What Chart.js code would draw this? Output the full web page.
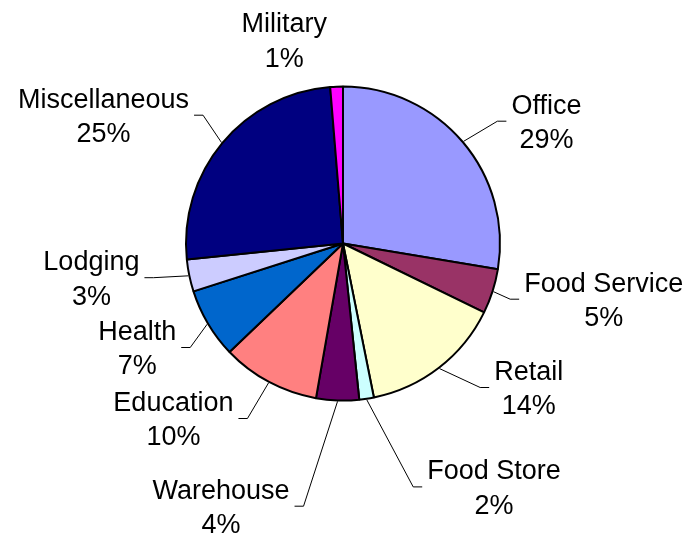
<!DOCTYPE html>
<html>
<head>
<meta charset="utf-8">
<script src="https://cdn.jsdelivr.net/npm/chart.js@4.4.1/dist/chart.umd.min.js"></script>
<style>
  html, body { margin: 0; padding: 0; background: #fff; }
  #wrap { width: 692px; height: 535px; }
</style>
</head>
<body>
<div id="wrap"><canvas id="buildingChart" width="692" height="535"></canvas></div>
<script>
const categories = ['Office', 'Food Service', 'Retail', 'Food Store', 'Warehouse', 'Education', 'Health', 'Lodging', 'Miscellaneous', 'Military'];
const shares = [27.6, 4.6, 14.6, 1.5, 4.4, 10.1, 7.2, 3.3, 25.3, 1.3];
const percentLabels = ['29%', '5%', '14%', '2%', '4%', '10%', '7%', '3%', '25%', '1%'];
const sliceColors = ['#9999FF', '#993366', '#FFFFCC', '#CCFFFF', '#660066', '#FF8080', '#0066CC', '#CCCCFF', '#000080', '#FF00FF'];

// where each label block sits, measured from the pie centre
const labelOffsetX = [203.4, 260.7, 185.7, 151, -122, -169.6, -205.8, -251.6, -239.5, -58.8];
const labelOffsetY = [-122.3, 55.7, 144, 243.4, 262.7, 175, 104, 34.2, -128.3, -203.8];
const hasLeader = [true, true, true, true, true, true, true, true, true, false];

const FONT_SIZE = 27;
const LINE_GAP = 34.5;

const labelPlugin = {
  id: 'pieLabels',
  afterDatasetsDraw(chart) {
    const ctx = chart.ctx;
    const arcs = chart.getDatasetMeta(0).data;
    ctx.save();
    ctx.font = `${FONT_SIZE}px "Liberation Sans", Arial, sans-serif`;
    ctx.fillStyle = '#000';
    ctx.strokeStyle = '#000';
    ctx.lineWidth = 1;
    ctx.textAlign = 'center';
    ctx.textBaseline = 'alphabetic';
    const capHalf = FONT_SIZE * 0.716 / 2;

    arcs.forEach((arc, i) => {
      const cx = arc.x + labelOffsetX[i];
      const cy = arc.y + labelOffsetY[i];
      const lines = [categories[i], percentLabels[i]];
      ctx.fillText(lines[0], cx, cy - LINE_GAP / 2 + capHalf);
      ctx.fillText(lines[1], cx, cy + LINE_GAP / 2 + capHalf);

      if (!hasLeader[i]) return;
      const w = Math.max(...lines.map((t) => ctx.measureText(t).width));
      const mid = (arc.startAngle + arc.endAngle) / 2;
      const r = arc.outerRadius + 1;
      const sx = arc.x + Math.cos(mid) * r;
      const sy = arc.y + Math.sin(mid) * r;
      const right = labelOffsetX[i] > 0;
      const ex = right ? cx - w / 2 - 5 : cx + w / 2 + 5;
      const bx = right ? ex - 9 : ex + 9;

      ctx.beginPath();
      ctx.moveTo(sx, sy);
      ctx.lineTo(bx, cy);
      ctx.lineTo(ex, cy);
      ctx.stroke();
    });
    ctx.restore();
  },
};

new Chart(document.getElementById('buildingChart').getContext('2d'), {
  type: 'pie',
  data: {
    labels: categories,
    datasets: [
      {
        data: shares,
        backgroundColor: sliceColors,
        borderColor: '#000',
        borderWidth: 2,
      },
    ],
  },
  options: {
    responsive: false,
    animation: false,
    radius: 157,
    layout: {
      padding: { left: 0, right: 6, top: 0, bottom: 48 },
    },
    plugins: {
      legend: { display: false },
      tooltip: { enabled: false },
    },
    events: [],
  },
  plugins: [labelPlugin],
});
</script>
</body>
</html>
